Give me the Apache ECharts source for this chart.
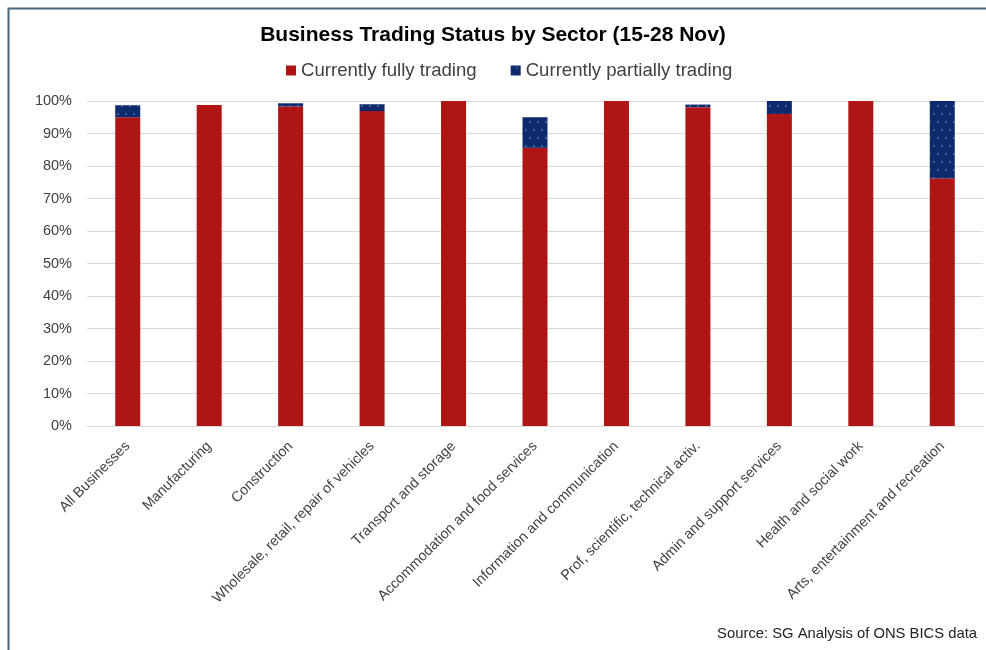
<!DOCTYPE html>
<html>
<head>
<meta charset="utf-8">
<script src="https://cdn.jsdelivr.net/npm/echarts@6/dist/echarts.min.js"></script>
<style>
  html, body { margin: 0; padding: 0; background: #fff; }
  #chart { width: 986px; height: 650px; }
</style>
</head>
<body>
<div id="chart"></div>
<script>
// Sectors shown along the x axis
const sectors = [
  'All Businesses',
  'Manufacturing',
  'Construction',
  'Wholesale, retail, repair of vehicles',
  'Transport and storage',
  'Accommodation and food services',
  'Information and communication',
  'Prof, scientific, technical activ.',
  'Admin and support services',
  'Health and social work',
  'Arts, entertainment and recreation'
];

// Share of businesses (%) in each trading state
const fullyTrading = [95.0, 98.8, 98.3, 96.9, 100, 85.6, 100, 98.1, 96.0, 100, 76.2];
const partiallyTrading = [3.7, 0, 1.0, 2.1, 0, 9.4, 0, 0.8, 4.0, 0, 23.8];

// Value axis ticks
const yTicks = [0, 10, 20, 30, 40, 50, 60, 70, 80, 90, 100];

const chart = echarts.init(document.getElementById('chart'), null, { renderer: 'canvas' });

const textColor = '#404040';
const fontFamily = '"Liberation Sans", Arial, sans-serif';

chart.setOption({
  animation: false,
  backgroundColor: '#ffffff',
  title: {
    text: 'Business Trading Status by Sector (15-28 Nov)',
    left: 'center',
    top: 20,
    textStyle: {
      fontFamily: fontFamily,
      fontSize: 21,
      fontWeight: 'bold',
      color: '#000000'
    }
  },
  legend: {
    top: 56,
    left: 281,
    itemWidth: 10,
    itemHeight: 10,
    itemGap: 34,
    icon: 'rect',
    textStyle: {
      fontFamily: fontFamily,
      fontSize: 18.6,
      color: textColor
    },
    data: ['Currently fully trading', 'Currently partially trading']
  },
  grid: {
    left: 87,
    right: 3,
    top: 101,
    bottom: 224,
    containLabel: false
  },
  xAxis: {
    type: 'category',
    data: sectors,
    axisTick: { show: false },
    axisLine: { lineStyle: { color: '#d9d9d9', width: 1 } },
    axisLabel: {
      interval: 0,
      rotate: 45,
      margin: 18,
      fontFamily: fontFamily,
      fontSize: 14.3,
      color: textColor
    }
  },
  yAxis: {
    type: 'value',
    min: yTicks[0],
    max: yTicks[yTicks.length - 1],
    interval: 10,
    axisLine: { show: false },
    axisTick: { show: false },
    splitLine: { lineStyle: { color: '#d9d9d9', width: 1 } },
    axisLabel: {
      formatter: '{value}%',
      margin: 15,
      fontFamily: fontFamily,
      fontSize: 14.5,
      color: textColor
    }
  },
  series: [
    {
      name: 'Currently fully trading',
      type: 'bar',
      stack: 'status',
      barWidth: 25,
      data: fullyTrading,
      itemStyle: { color: '#b01515' }
    },
    {
      name: 'Currently partially trading',
      type: 'bar',
      stack: 'status',
      barWidth: 25,
      data: partiallyTrading,
      itemStyle: {
        color: '#0c2a6c',
        decal: {
          symbol: 'circle',
          symbolSize: 0.35,
          color: 'rgba(200,210,230,0.8)',
          dashArrayX: [[4, 4], [0, 4, 4, 0]],
          dashArrayY: [4, 4],
          rotation: 0
        }
      }
    }
  ],
  graphic: [
    {
      type: 'rect',
      shape: { x: 8.5, y: 8.5, width: 1000, height: 700 },
      style: { fill: null, stroke: '#45667e', lineWidth: 2 },
      silent: true
    },
    {
      type: 'text',
      right: 9,
      top: 626,
      style: {
        text: 'Source: SG Analysis of ONS BICS data',
        font: '14.8px "Liberation Sans", Arial, sans-serif',
        fill: '#222222'
      }
    }
  ]
});
</script>
</body>
</html>
